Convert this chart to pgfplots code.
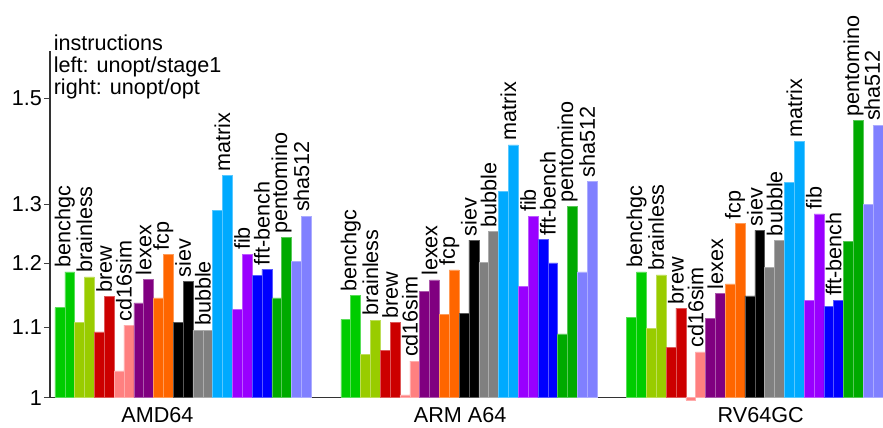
\documentclass[border=0pt]{standalone}
\usepackage{fontspec}
\setmainfont{Liberation Sans}
\usepackage{pgfplots}
\pgfplotsset{compat=1.18}
\newcommand\fsz{\fontsize{21.6pt}{22pt}\selectfont}
\definecolor{cBench}{HTML}{00CC00}
\definecolor{cBrain}{HTML}{99CC00}
\definecolor{cBrew}{HTML}{CC0000}
\definecolor{cCd}{HTML}{FF8080}
\definecolor{cLex}{HTML}{800080}
\definecolor{cFcp}{HTML}{FF6600}
\definecolor{cSiev}{HTML}{000000}
\definecolor{cBub}{HTML}{808080}
\definecolor{cMat}{HTML}{00AAFF}
\definecolor{cFib}{HTML}{9900FF}
\definecolor{cFft}{HTML}{0000FF}
\definecolor{cPent}{HTML}{00AA00}
\definecolor{cSha}{HTML}{8080FF}
\pgfplotsset{
  mybar/.style={ybar, bar width=1, bar shift=0pt, fill=#1, draw=#1!65!white, line width=0.5pt},
}
\begin{document}
\begin{tikzpicture}[font=\fsz]
\useasboundingbox (0,0) rectangle (883pt,428pt);
\begin{axis}[
  at={(50pt,30.3pt)}, anchor=south west,
  scale only axis, width=833pt, height=346.7pt,
  ymode=log, ymin=1, ymax=1.6,
  xmin=-0.5, xmax=84,
  clip=false,
  axis lines*=left,
  axis line style={line width=1.2pt, black!80},
  ytick={1,1.1,1.2,1.3,1.5},
  yticklabels={1,1.1,1.2,1.3,1.5},
  minor ytick={},
  tick align=outside,
  major tick length=6pt,
  ytick style={line width=1pt, black!75},
  xtick={10.4,41.1,71.6},
  xticklabels={AMD64,ARM A64,RV64GC},
  xtick style={draw=none},
  tick label style={font=\fsz},
  yticklabel style={inner sep=0pt, xshift=-2pt},
  xticklabel style={inner sep=0pt, yshift=-4pt},
]
\addplot[mybar=cBench] coordinates {(0.5,1.130) (1.5,1.186) (29.5,1.112) (30.5,1.149) (58.5,1.115) (59.5,1.186)};
\addplot[mybar=cBrain] coordinates {(2.5,1.1075) (3.5,1.178) (31.5,1.0605) (32.5,1.111) (60.5,1.099) (61.5,1.181)};
\addplot[mybar=cBrew] coordinates {(4.5,1.0935) (5.5,1.147) (33.5,1.0667) (34.5,1.107) (62.5,1.071) (63.5,1.129)};
\addplot[mybar=cCd] coordinates {(6.5,1.037) (7.5,1.103) (35.5,1.0037) (36.5,1.051) (64.5,0.997) (65.5,1.064)};
\addplot[mybar=cLex] coordinates {(8.5,1.137) (9.5,1.174) (37.5,1.1555) (38.5,1.173) (66.5,1.1135) (67.5,1.152)};
\addplot[mybar=cFcp] coordinates {(10.5,1.145) (11.5,1.214) (39.5,1.120) (40.5,1.189) (68.5,1.167) (69.5,1.266)};
\addplot[mybar=cSiev] coordinates {(12.5,1.1075) (13.5,1.171) (41.5,1.121) (42.5,1.238) (70.5,1.148) (71.5,1.2545)};
\addplot[mybar=cBub] coordinates {(14.5,1.096) (15.5,1.096) (43.5,1.201) (44.5,1.253) (72.5,1.193) (73.5,1.238)};
\addplot[mybar=cMat] coordinates {(16.5,1.289) (17.5,1.3515) (45.5,1.3225) (46.5,1.4086) (74.5,1.339) (75.5,1.415)};
\addplot[mybar=cFib] coordinates {(18.5,1.127) (19.5,1.215) (47.5,1.163) (48.5,1.279) (76.5,1.141) (77.5,1.283)};
\addplot[mybar=cFft] coordinates {(20.5,1.180) (21.5,1.190) (49.5,1.239) (50.5,1.2006) (78.5,1.132) (79.5,1.1415)};
\addplot[mybar=cPent] coordinates {(22.5,1.145) (23.5,1.243) (51.5,1.0905) (52.5,1.296) (80.5,1.236) (81.5,1.456)};
\addplot[mybar=cSha] coordinates {(24.5,1.203) (25.5,1.279) (53.5,1.186) (54.5,1.341) (82.5,1.299) (83.5,1.447)};
\addplot[only marks, mark=*, mark size=0pt, mark options={draw=none,fill=none},
  nodes near coords, point meta=explicit symbolic,
  every node near coord/.append style={rotate=90, anchor=west, inner xsep=4pt, inner ysep=0pt, font=\fsz, text=black}]
  table[meta=label] {
x y label
1 1.186 benchgc
3 1.178 brainless
5 1.147 brew
7 1.103 cd16sim
9 1.174 lexex
11 1.214 fcp
13 1.171 siev
15 1.096 bubble
17 1.3515 matrix
19 1.215 fib
21 1.190 fft-bench
23 1.243 pentomino
25 1.279 sha512
30 1.149 benchgc
32 1.111 brainless
34 1.107 brew
36 1.051 cd16sim
38 1.173 lexex
40 1.189 fcp
42 1.238 siev
44 1.253 bubble
46 1.4086 matrix
48 1.279 fib
50 1.239 fft-bench
52 1.296 pentomino
54 1.341 sha512
59 1.186 benchgc
61 1.181 brainless
63 1.129 brew
65 1.064 cd16sim
67 1.152 lexex
69 1.266 fcp
71 1.2545 siev
73 1.238 bubble
75 1.415 matrix
77 1.283 fib
79 1.1415 fft-bench
81 1.456 pentomino
82.9 1.447 sha512
};
\end{axis}
\node[anchor=base west, inner sep=0pt] at (53.6pt,377.6pt) {instructions};
\node[anchor=base west, inner sep=0pt] at (53.6pt,355.6pt) {left: unopt/stage1};
\node[anchor=base west, inner sep=0pt] at (53.6pt,333.6pt) {right: unopt/opt};
\end{tikzpicture}
\end{document}
